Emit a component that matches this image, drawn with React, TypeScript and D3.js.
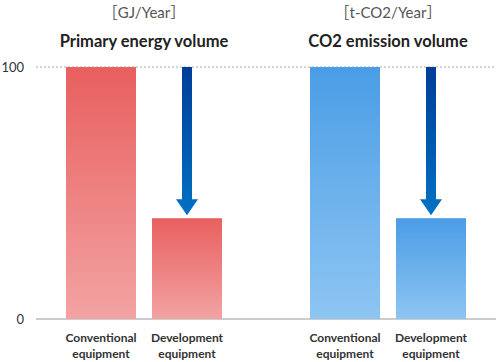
import React from 'react';
import * as d3 from 'd3';

// panels and their values
const panels = ['energy', 'co2'];
const panelTitles = ['Primary energy volume', 'CO2 emission volume'];
const panelUnits = ['［GJ/Year］', '［t-CO2/Year］'];
const categories = ['Conventional', 'Development'];
const categoryLines = [['Conventional', 'equipment'], ['Development', 'equipment']];
const energyValues = [100, 40];
const co2Values = [100, 40];
const yTicks = [0, 100];

const W = 496;
const H = 362;

const palettes = [
  { top: '#E8605F', bottom: '#F3A3A3' },
  { top: '#4A9DE6', bottom: '#8EC5F2' },
];

export default function App() {
  const y = d3.scaleLinear().domain([0, 100]).range([319, 67]);
  const xGroup = d3.scalePoint<string>().domain(panels).range([144, 388]);
  const xInner = d3.scaleBand<string>().domain(categories).range([-78, 78]).paddingInner(0.186);
  const allValues = [energyValues, co2Values];
  const font = 'Lato, "Noto Sans", sans-serif';

  return (
    <div style={{ position: 'fixed', left: 0, top: 0 }}>
      <svg width={W} height={H} style={{ display: 'block', background: '#fff' }} fontFamily={font}>
        <defs>
          {palettes.map((p, i) => (
            <linearGradient key={i} id={`bar${i}`} x1="0" y1="0" x2="0" y2="1">
              <stop offset="0%" stopColor={p.top} />
              <stop offset="100%" stopColor={p.bottom} />
            </linearGradient>
          ))}
          <linearGradient id="arrow" x1="0" y1="0" x2="0" y2="1">
            <stop offset="0%" stopColor="#003E98" />
            <stop offset="100%" stopColor="#0072C4" />
          </linearGradient>
        </defs>

        {/* gridline at 100 and baseline */}
        <line x1={36} x2={W} y1={y(100)} y2={y(100)} stroke="#aaa" strokeDasharray="2,2" />
        <line x1={36} x2={W} y1={y(0)} y2={y(0)} stroke="#999" />
        {yTicks.map(t => (
          <text key={t} x={24} y={y(t)} dy="0.35em" textAnchor="end" fontSize={13} fill="#333">{t}</text>
        ))}

        {panels.map((p, pi) => {
          const cx = xGroup(p)!;
          const vals = allValues[pi];
          return (
            <g key={p}>
              <text x={cx} y={18} textAnchor="middle" fontSize={15} fill="#555"
                fontFamily='Lato, "Noto Sans CJK JP", sans-serif'>{panelUnits[pi]}</text>
              <text x={cx} y={47} textAnchor="middle" fontSize={16.5} fontWeight="bold" fill="#222">{panelTitles[pi]}</text>
              {categories.map((c, ci) => {
                const x0 = cx + xInner(c)!;
                const bw = xInner.bandwidth();
                return (
                  <g key={c}>
                    <rect x={x0} y={y(vals[ci])} width={bw} height={y(0) - y(vals[ci])} fill={`url(#bar${pi})`} />
                    <text x={x0 + bw / 2} y={342} textAnchor="middle" fontSize={12} fontWeight="bold" fill="#333">
                      {categoryLines[ci].map((l, li) => (
                        <tspan key={li} x={x0 + bw / 2} dy={li === 0 ? 0 : 16}>{l}</tspan>
                      ))}
                    </text>
                  </g>
                );
              })}
              {(() => {
                const ax = cx + xInner(categories[1])! + xInner.bandwidth() / 2;
                const yTop = y(vals[0]);
                const yTip = y(vals[1]) - 3;
                const headH = 16;
                const d = d3.path();
                d.moveTo(ax - 5, yTop);
                d.lineTo(ax + 5, yTop);
                d.lineTo(ax + 5, yTip - headH);
                d.lineTo(ax + 11, yTip - headH);
                d.lineTo(ax, yTip);
                d.lineTo(ax - 11, yTip - headH);
                d.lineTo(ax - 5, yTip - headH);
                d.closePath();
                return <path d={d.toString()} fill="url(#arrow)" />;
              })()}
            </g>
          );
        })}
      </svg>
    </div>
  );
}
